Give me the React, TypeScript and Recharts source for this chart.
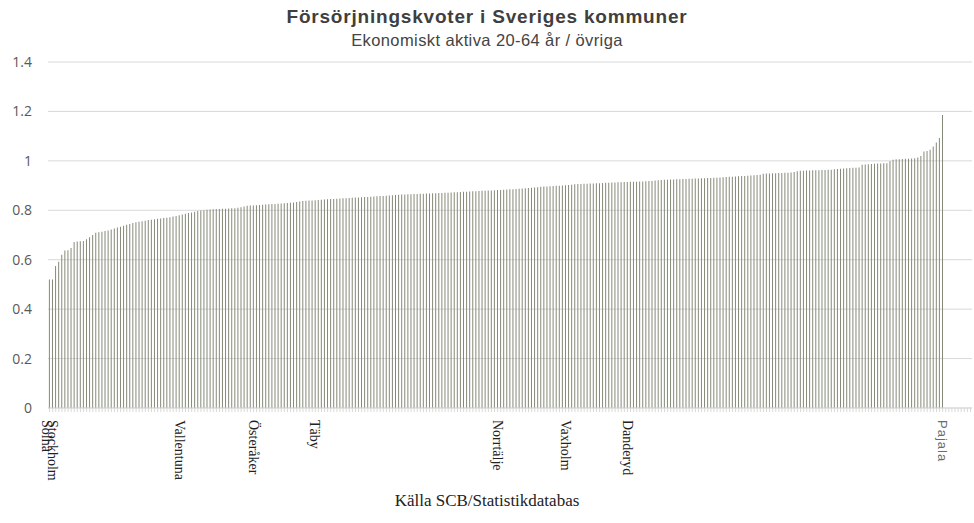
import { Bar, BarChart, CartesianGrid, XAxis, YAxis } from "recharts";

// försörjningskvot per kommun, sorterat stigande (290 kommuner)
const kvoter = [
  0.52, 0.52, 0.575, 0.592, 0.62, 0.637, 0.638, 0.647, 0.672, 0.674,
  0.675, 0.676, 0.683, 0.691, 0.7, 0.709, 0.711, 0.713, 0.716, 0.718,
  0.722, 0.726, 0.73, 0.733, 0.737, 0.741, 0.745, 0.749, 0.752, 0.754,
  0.756, 0.758, 0.761, 0.762, 0.764, 0.766, 0.767, 0.769, 0.77, 0.772,
  0.775, 0.777, 0.78, 0.783, 0.786, 0.789, 0.791, 0.794, 0.797, 0.799,
  0.8, 0.802, 0.803, 0.804, 0.805, 0.805, 0.806, 0.806, 0.807, 0.808,
  0.808, 0.81, 0.812, 0.815, 0.818, 0.819, 0.819, 0.82, 0.821, 0.822,
  0.823, 0.824, 0.825, 0.825, 0.826, 0.827, 0.828, 0.829, 0.83, 0.832,
  0.834, 0.836, 0.838, 0.839, 0.84, 0.84, 0.841, 0.842, 0.843, 0.844,
  0.845, 0.846, 0.846, 0.847, 0.848, 0.849, 0.849, 0.85, 0.851, 0.852,
  0.852, 0.853, 0.854, 0.854, 0.855, 0.856, 0.857, 0.858, 0.858, 0.859,
  0.86, 0.861, 0.862, 0.863, 0.864, 0.864, 0.865, 0.865, 0.866, 0.866,
  0.867, 0.867, 0.868, 0.868, 0.869, 0.869, 0.87, 0.87, 0.871, 0.871,
  0.872, 0.873, 0.873, 0.874, 0.875, 0.875, 0.876, 0.877, 0.877, 0.878,
  0.879, 0.879, 0.88, 0.88, 0.881, 0.882, 0.882, 0.883, 0.884, 0.885,
  0.885, 0.886, 0.887, 0.888, 0.889, 0.89, 0.891, 0.892, 0.893, 0.895,
  0.896, 0.896, 0.897, 0.898, 0.899, 0.899, 0.9, 0.901, 0.902, 0.903,
  0.905, 0.906, 0.906, 0.907, 0.907, 0.908, 0.908, 0.909, 0.909, 0.91,
  0.911, 0.911, 0.912, 0.912, 0.913, 0.913, 0.914, 0.914, 0.915, 0.915,
  0.915, 0.916, 0.916, 0.917, 0.918, 0.919, 0.921, 0.922, 0.923, 0.924,
  0.924, 0.925, 0.925, 0.926, 0.926, 0.927, 0.927, 0.928, 0.928, 0.929,
  0.929, 0.93, 0.93, 0.931, 0.931, 0.932, 0.932, 0.933, 0.934, 0.935,
  0.936, 0.936, 0.937, 0.938, 0.939, 0.939, 0.94, 0.941, 0.942, 0.943,
  0.944, 0.948, 0.949, 0.949, 0.95, 0.95, 0.951, 0.951, 0.952, 0.952,
  0.953, 0.955, 0.958, 0.96, 0.96, 0.961, 0.961, 0.962, 0.962, 0.962,
  0.963, 0.963, 0.964, 0.964, 0.966, 0.967, 0.968, 0.969, 0.97, 0.971,
  0.972, 0.972, 0.973, 0.984, 0.985, 0.986, 0.987, 0.988, 0.989, 0.989,
  0.99, 0.99, 0.998, 1.004, 1.006, 1.007, 1.008, 1.009, 1.009, 1.01,
  1.011, 1.014, 1.02, 1.038, 1.04, 1.045, 1.058, 1.074, 1.092, 1.186,
];

// kommuner med namn utskrivna på x-axeln: [position, namn]
const namngivna: [number, string][] = [
  [0, "Solna"],
  [2, "Stockholm"],
  [43, "Vallentuna"],
  [67, "Österåker"],
  [87, "Täby"],
  [146, "Norrtälje"],
  [168, "Vaxholm"],
  [188, "Danderyd"],
  [289, "Pajala"],
];

// tomma rader efter sista kommunen i källtabellen
const tommaRader = 9;

const yTicks = [0, 0.2, 0.4, 0.6, 0.8, 1, 1.2, 1.4];

const namnMap = new Map(namngivna);

const data = [
  ...kvoter.map((v, i) => ({ pos: i, kvot: v })),
  ...Array.from({ length: tommaRader }, (_, i) => ({ pos: kvoter.length + i, kvot: null })),
];

function KommunTick(props: any) {
  const { x, y, payload } = props;
  const namn = namnMap.get(payload.value);
  if (!namn) return null;
  const sist = payload.value === kvoter.length - 1;
  return (
    <text
      x={0}
      y={0}
      dy="0.35em"
      transform={`translate(${sist ? x : x - 3},${y + 6}) rotate(90)`}
      textAnchor="start"
      fontFamily={sist ? "'Liberation Sans', Arial, sans-serif" : "'Liberation Serif', 'Times New Roman', serif"}
      fontSize={sist ? 13 : 14}
      letterSpacing={sist ? 1 : 0}
      fill={sist ? "#6b6b6b" : "#222"}
    >
      {namn}
    </text>
  );
}

export default function App() {
  return (
    <div style={{ position: "absolute", left: 0, top: 0, width: 974, height: 523, background: "#fff" }}>
      <div
        style={{
          position: "absolute",
          top: 6,
          width: 974,
          textAlign: "center",
          fontFamily: "'Liberation Sans', Arial, sans-serif",
          fontWeight: "bold",
          fontSize: 19,
          letterSpacing: 0.8,
          color: "#3f3f3f",
        }}
      >
        Försörjningskvoter i Sveriges kommuner
      </div>
      <div
        style={{
          position: "absolute",
          top: 31,
          width: 974,
          textAlign: "center",
          fontFamily: "'Liberation Sans', Arial, sans-serif",
          fontSize: 16.5,
          letterSpacing: 0.4,
          color: "#444",
        }}
      >
        Ekonomiskt aktiva 20-64 år / övriga
      </div>
      <BarChart
        width={974}
        height={523}
        data={data}
        margin={{ top: 62, right: 2, bottom: 0, left: 8 }}
        barCategoryGap="29%"
      >
        <CartesianGrid vertical={false} stroke="#d9d9d9" />
        <XAxis
          dataKey="pos"
          type="category"
          interval={0}
          height={115}
          tick={<KommunTick />}
          tickLine={{ stroke: "#d9d9d9" }}
          tickSize={4}
          axisLine={{ stroke: "#d9d9d9" }}
        />
        <YAxis
          domain={[0, 1.4]}
          ticks={yTicks}
          width={40}
          axisLine={false}
          tickLine={false}
          tickSize={6}
          tickMargin={10}
          tick={{ fill: "#595959", fontSize: 14, fontFamily: "'Open Sans', sans-serif" }}
        />
        <Bar dataKey="kvot" fill="#848a78" isAnimationActive={false} />
      </BarChart>
      <div
        style={{
          position: "absolute",
          top: 491,
          width: 974,
          textAlign: "center",
          fontFamily: "'Liberation Serif', 'Times New Roman', serif",
          fontSize: 17,
          color: "#222",
        }}
      >
        Källa SCB/Statistikdatabas
      </div>
    </div>
  );
}
